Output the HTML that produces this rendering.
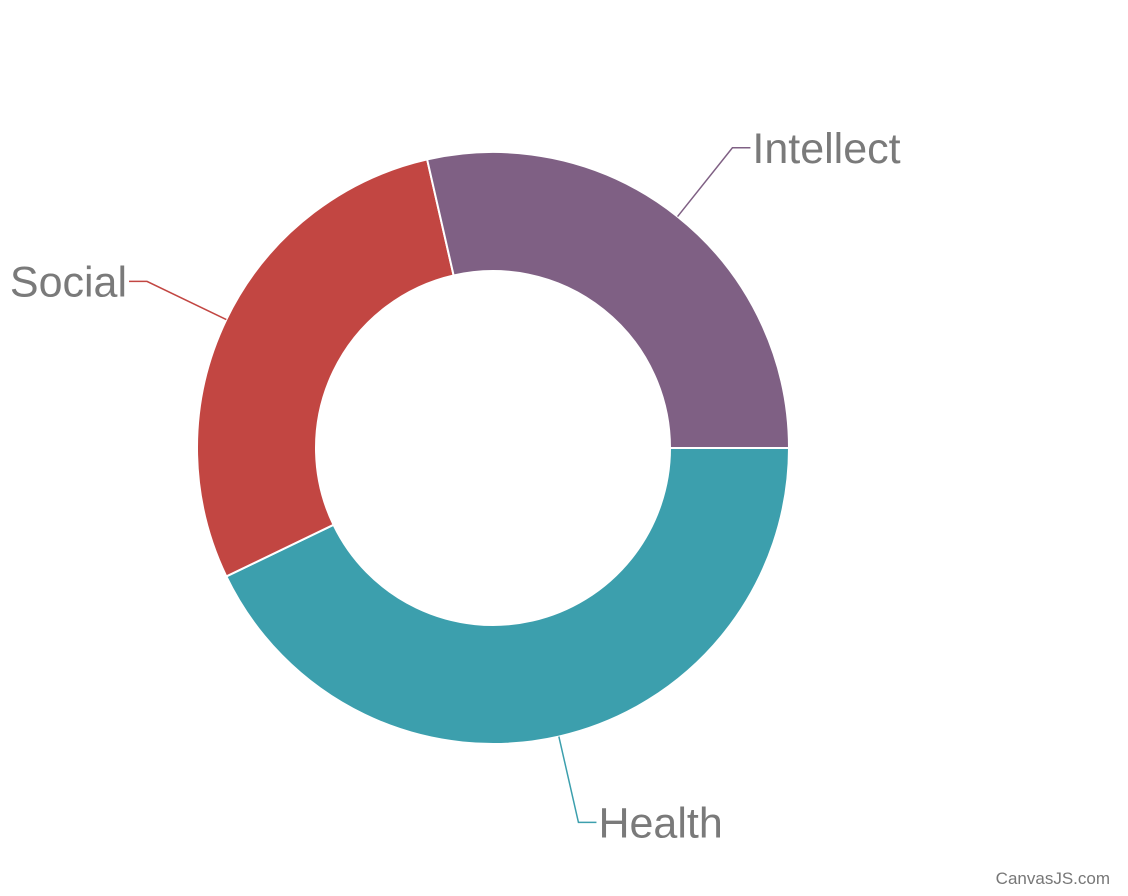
<!DOCTYPE html>
<html>
<head>
<meta charset="utf-8">
<style>
html,body{margin:0;padding:0;background:#fff;}
svg{display:block;}
text{font-family:"Liberation Sans",sans-serif;}
</style>
</head>
<body>
<svg id="chart" width="1128" height="896" viewBox="0 0 1128 896" xmlns="http://www.w3.org/2000/svg">
  <g id="slices"></g>
  <g id="labels"></g>
  <text x="1110" y="884" text-anchor="end" font-size="17" fill="#777">CanvasJS.com</text>
</svg>
<script>
const categories = ["Health", "Social", "Intellect"];
const values = [3, 2, 2];
const colors = ["#3C9FAD", "#C24642", "#7F6084"];

const cx = 493, cy = 448, R = 296, r = 177;
const NS = "http://www.w3.org/2000/svg";
const total = values.reduce((a, b) => a + b, 0);
const slicesG = document.getElementById("slices");
const labelsG = document.getElementById("labels");

function pt(rad, a) { return [cx + rad * Math.cos(a), cy + rad * Math.sin(a)]; }

let start = 0;
values.forEach((v, i) => {
  const sweep = v / total * Math.PI * 2;
  const end = start + sweep;
  const large = sweep > Math.PI ? 1 : 0;
  const [x1, y1] = pt(R, start), [x2, y2] = pt(R, end);
  const [x3, y3] = pt(r, end), [x4, y4] = pt(r, start);
  const p = document.createElementNS(NS, "path");
  p.setAttribute("d", `M${x1},${y1} A${R},${R} 0 ${large} 1 ${x2},${y2} L${x3},${y3} A${r},${r} 0 ${large} 0 ${x4},${y4} Z`);
  p.setAttribute("fill", colors[i]);
  p.setAttribute("stroke", "#fff");
  p.setAttribute("stroke-width", "2");
  
  
  slicesG.appendChild(p);

  const mid = start + sweep / 2;
  const [ax, ay] = pt(R, mid);
  const [bx, by] = pt(R + 88, mid);
  const right = Math.cos(mid) >= 0;
  const cxEnd = bx + (right ? 18 : -18);
  const line = document.createElementNS(NS, "polyline");
  line.setAttribute("points", `${ax},${ay} ${bx},${by} ${cxEnd},${by}`);
  line.setAttribute("fill", "none");
  line.setAttribute("stroke", colors[i]);
  line.setAttribute("stroke-width", "1.5");
  
  
  labelsG.appendChild(line);

  const t = document.createElementNS(NS, "text");
  t.setAttribute("x", cxEnd + (right ? 2 : -2));
  t.setAttribute("y", by + 15);
  t.setAttribute("text-anchor", right ? "start" : "end");
  t.setAttribute("font-size", "43");
  t.setAttribute("fill", "#7a7a7a");
  t.textContent = categories[i];
  
  
  labelsG.appendChild(t);

  start = end;
});
</script>
</body>
</html>
